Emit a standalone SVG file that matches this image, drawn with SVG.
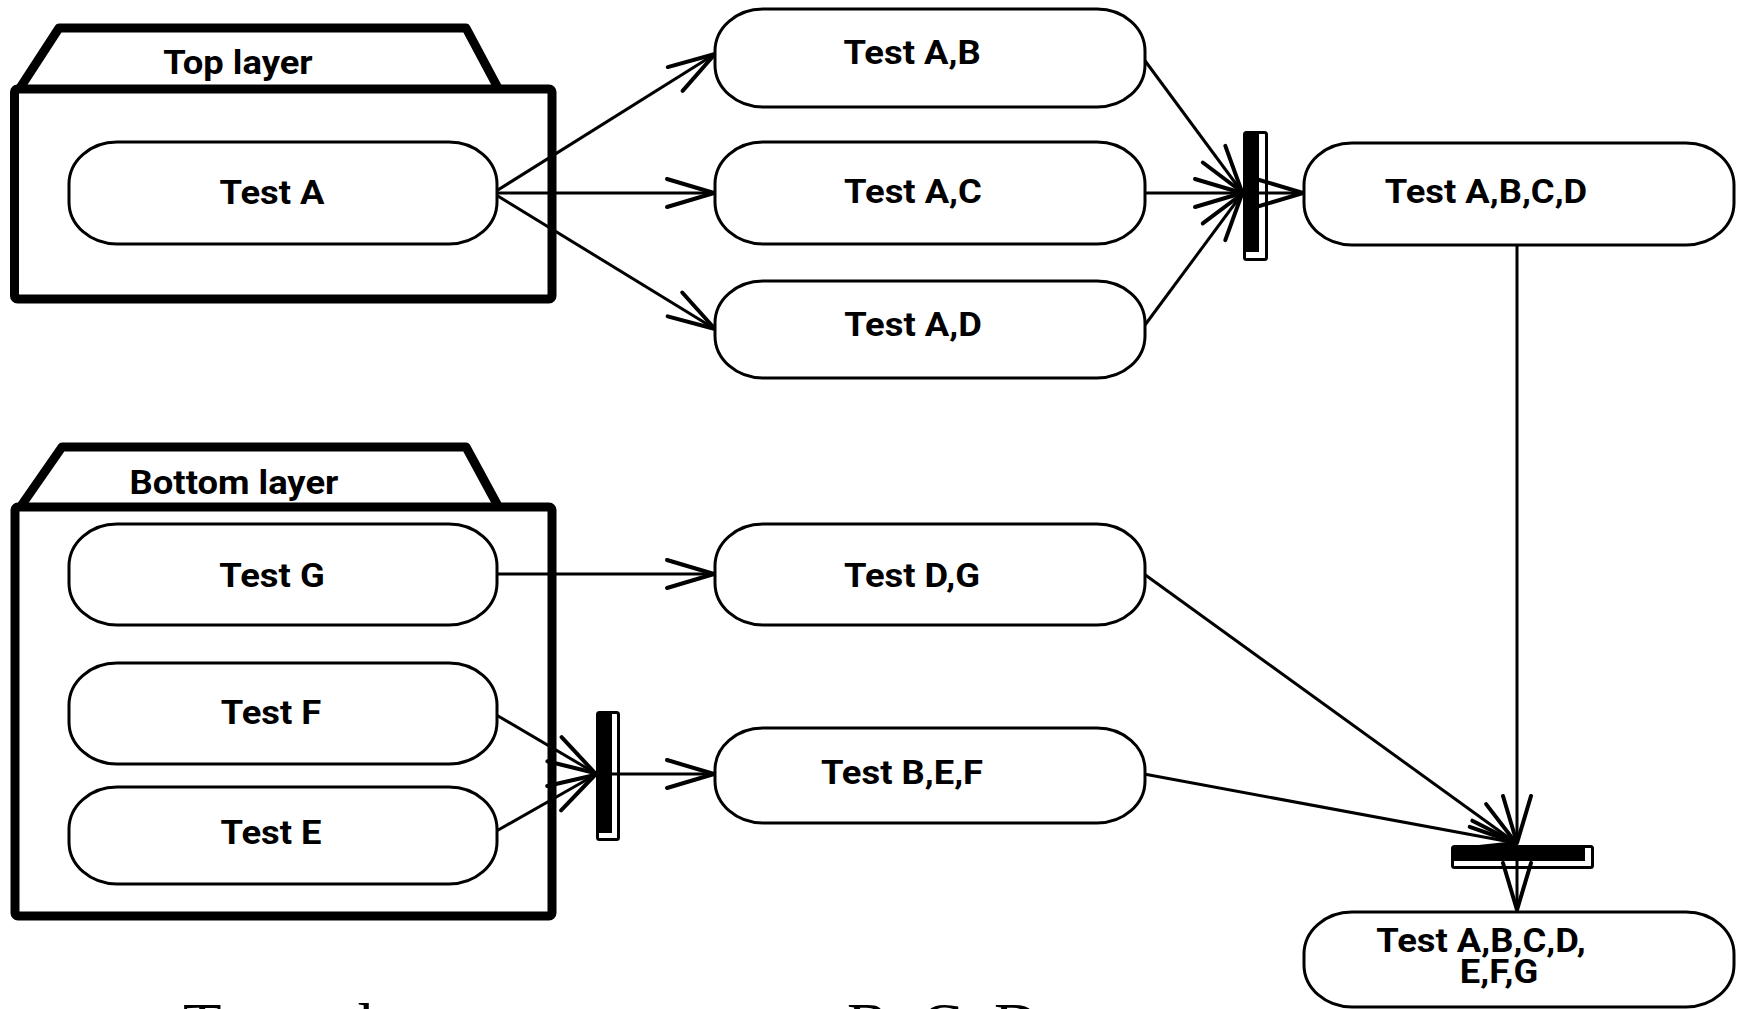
<svg xmlns="http://www.w3.org/2000/svg" width="1742" height="1009" viewBox="0 0 1742 1009">
  <style>
    .layer { fill: none; stroke: #000; stroke-width: 9; stroke-linejoin: round; }
    .pill { fill: #fff; stroke: #000; stroke-width: 3; }
    .label { font-family: Roboto, "Liberation Sans", sans-serif; font-weight: bold; font-size: 34px; fill: #000; text-anchor: middle; }
    .edge { fill: none; stroke: #000; stroke-width: 3; marker-end: url(#arrow); }
    .bar-frame { fill: none; stroke: #000; stroke-width: 3; }
    .bar-fill { fill: #000; }
    .caption { font-family: "Liberation Serif", serif; font-size: 63px; fill: #000; }
  </style>
  <defs>
    <marker id="arrow" markerUnits="userSpaceOnUse" viewBox="-52 -18 56 36" markerWidth="56" markerHeight="36" refX="0" refY="0" orient="auto" overflow="visible">
      <path d="M-47,-14 L0,0 L-47,14" fill="none" stroke="#000" stroke-width="4" stroke-linejoin="round" stroke-linecap="round"/>
    </marker>
  </defs>

  <rect width="1742" height="1009" fill="#fff"/>

  <!-- layer packages -->
  <g id="top-layer">
    <polyline class="layer" points="20,88 59,28 466,28 498,88"/>
    <rect class="layer" x="14.5" y="89" width="537.5" height="210" rx="3"/>
    <text class="label" transform="translate(238,74) scale(1.07,1)">Top layer</text>
  </g>
  <g id="bottom-layer">
    <polyline class="layer" points="21,506 62,447 466,447 498,506"/>
    <rect class="layer" x="15" y="507" width="537" height="409" rx="3"/>
    <text class="label" transform="translate(234,494) scale(1.07,1)">Bottom layer</text>
  </g>

  <!-- connectors (drawn beneath the sync bars) -->
  <g id="connectors">
    <line class="edge" x1="493" y1="193" x2="715" y2="54"/>
    <line class="edge" x1="493" y1="193" x2="714" y2="193"/>
    <line class="edge" x1="493" y1="193" x2="715" y2="329"/>
    <line class="edge" x1="1143" y1="58" x2="1242" y2="192"/>
    <line class="edge" x1="1145" y1="193" x2="1242" y2="193"/>
    <line class="edge" x1="1145" y1="325" x2="1242" y2="194"/>
    <line class="edge" x1="1245" y1="193" x2="1303" y2="193"/>
    <line class="edge" x1="497" y1="574" x2="714" y2="574"/>
    <line class="edge" x1="493" y1="713" x2="595" y2="773"/>
    <line class="edge" x1="493" y1="833" x2="595" y2="775"/>
    <line class="edge" x1="599" y1="774" x2="714" y2="774"/>
    <line class="edge" x1="1144" y1="574" x2="1516" y2="843"/>
    <line class="edge" x1="1144" y1="774" x2="1516" y2="843"/>
    <line class="edge" x1="1517" y1="245" x2="1517" y2="843"/>
    <line class="edge" x1="1517" y1="848" x2="1517" y2="910"/>
  </g>

  <!-- synchronisation bars -->
  <g id="join-top">
    <rect class="bar-fill" x="1244" y="132" width="15" height="120"/>
    <rect class="bar-frame" x="1244.5" y="132.5" width="22" height="127" rx="2"/>
  </g>
  <g id="join-bottom">
    <rect class="bar-fill" x="597" y="712" width="15" height="121"/>
    <rect class="bar-frame" x="597.5" y="712.5" width="21" height="127" rx="2"/>
  </g>
  <g id="join-final">
    <rect class="bar-fill" x="1452" y="846" width="133" height="15"/>
    <rect class="bar-frame" x="1452.5" y="846.5" width="140" height="21" rx="2"/>
  </g>

  <!-- test activities -->
  <g id="test-a">
    <rect class="pill" x="69" y="142" width="428" height="102" rx="48" ry="42"/>
    <text class="label" transform="translate(272,204) scale(1.07,1)">Test A</text>
  </g>
  <g id="test-g">
    <rect class="pill" x="69" y="524" width="428" height="101" rx="48" ry="42"/>
    <text class="label" transform="translate(272,587) scale(1.07,1)">Test G</text>
  </g>
  <g id="test-f">
    <rect class="pill" x="69" y="663" width="428" height="101" rx="48" ry="42"/>
    <text class="label" transform="translate(271,724) scale(1.07,1)">Test F</text>
  </g>
  <g id="test-e">
    <rect class="pill" x="69" y="787" width="428" height="97" rx="48" ry="42"/>
    <text class="label" transform="translate(271,844) scale(1.07,1)">Test E</text>
  </g>
  <g id="test-ab">
    <rect class="pill" x="715" y="9" width="430" height="98" rx="48" ry="42"/>
    <text class="label" transform="translate(912,64) scale(1.07,1)">Test A,B</text>
  </g>
  <g id="test-ac">
    <rect class="pill" x="715" y="142" width="430" height="102" rx="48" ry="42"/>
    <text class="label" transform="translate(913,203) scale(1.07,1)">Test A,C</text>
  </g>
  <g id="test-ad">
    <rect class="pill" x="715" y="281" width="430" height="97" rx="48" ry="42"/>
    <text class="label" transform="translate(913,336) scale(1.07,1)">Test A,D</text>
  </g>
  <g id="test-dg">
    <rect class="pill" x="715" y="524" width="430" height="101" rx="48" ry="42"/>
    <text class="label" transform="translate(912,587) scale(1.07,1)">Test D,G</text>
  </g>
  <g id="test-bef">
    <rect class="pill" x="715" y="728" width="430" height="95" rx="48" ry="42"/>
    <text class="label" transform="translate(902,784) scale(1.07,1)">Test B,E,F</text>
  </g>
  <g id="test-abcd">
    <rect class="pill" x="1304" y="143" width="430" height="102" rx="48" ry="42"/>
    <text class="label" transform="translate(1486,203) scale(1.07,1)">Test A,B,C,D</text>
  </g>
  <g id="test-all">
    <rect class="pill" x="1304" y="912" width="430" height="95" rx="48" ry="42"/>
    <text class="label" transform="translate(1481,952) scale(1.07,1)">Test A,B,C,D,</text>
    <text class="label" transform="translate(1499,983) scale(1.07,1)">E,F,G</text>
  </g>

  <!-- caption running off the lower edge -->
  <text class="caption" x="183" y="1047">Target layer</text>
  <text class="caption" x="847" y="1047">B, C, D</text>
</svg>
